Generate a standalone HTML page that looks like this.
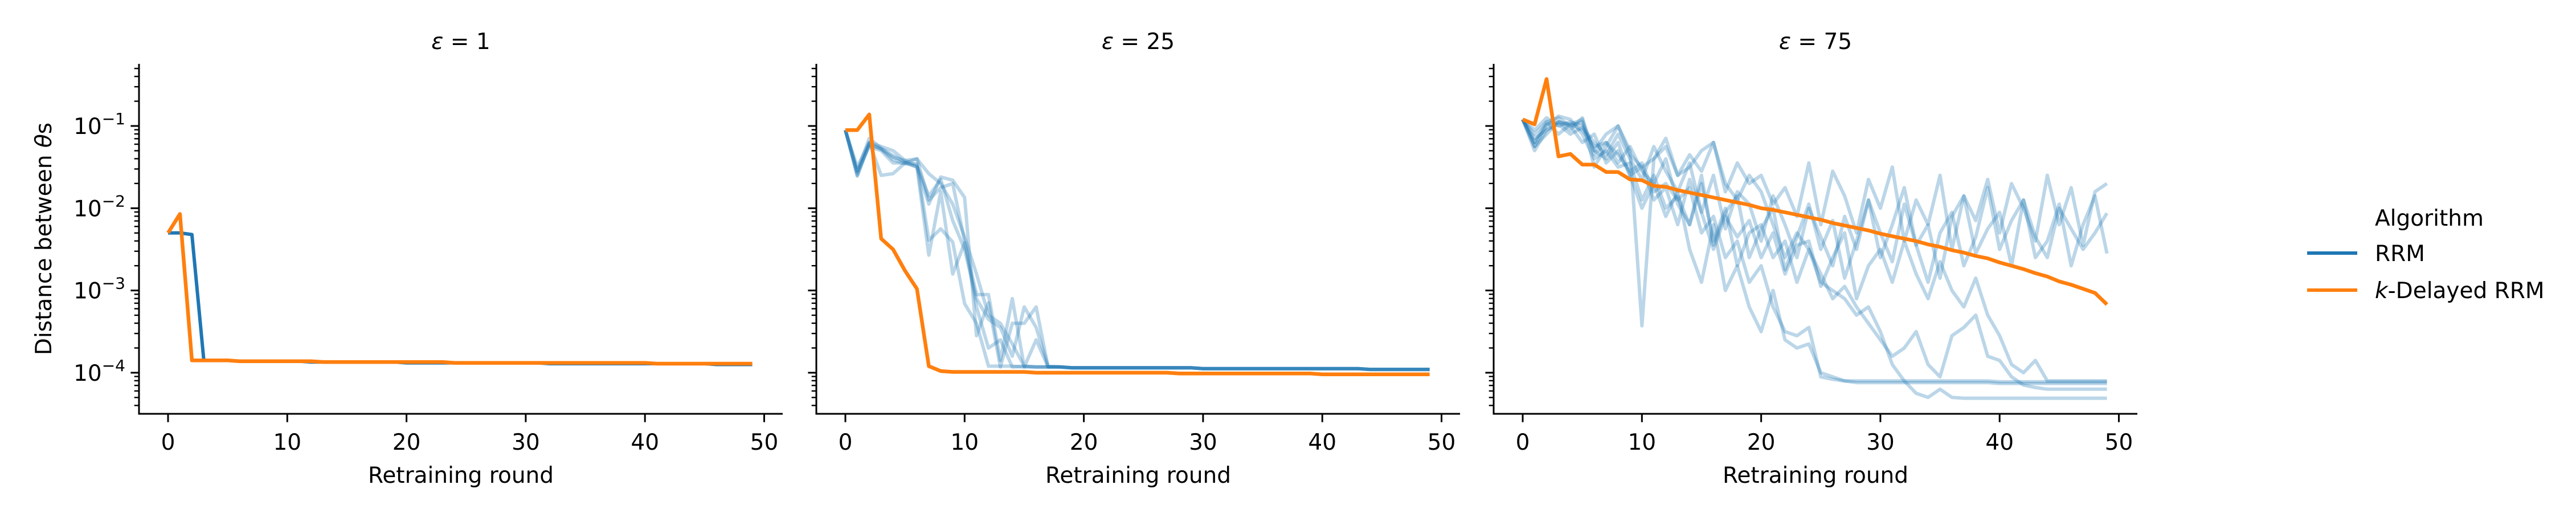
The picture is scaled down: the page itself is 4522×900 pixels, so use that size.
<!DOCTYPE html>
<html><head><meta charset="utf-8"><style>
html,body{margin:0;padding:0;background:#fff;}
svg{display:block;font-family:"DejaVu Sans","Liberation Sans",sans-serif;}
</style></head><body>
<svg id="chart" width="4522" height="900" viewBox="0 0 4522 900" xmlns="http://www.w3.org/2000/svg">
<text x="0" y="0" transform="translate(90,419) rotate(-90)" text-anchor="middle" font-size="39">Distance between <tspan font-style="italic">θ</tspan>s</text>
<g>
<text x="4169" y="396" font-size="39">Algorithm</text>
<line x1="4050" x2="4138" y1="444" y2="444" stroke="#1f77b4" stroke-width="6"/>
<text x="4169" y="458" font-size="39">RRM</text>
<line x1="4050" x2="4138" y1="509" y2="509" stroke="#ff7f0e" stroke-width="6"/>
<text x="4169" y="523" font-size="39"><tspan font-style="italic">k</tspan>-Delayed RRM</text>
</g>
</svg>
<script>
const xTicks=[0,10,20,30,40,50];
const yMajor=[-1,-2,-3,-4];
const yMajorLabels=["−1","−2","−3","−4"];
const panelTitles=["1","25","75"];
const p1Blue=[-2.30,-2.30,-2.32,-3.85,-3.85,-3.85,-3.86,-3.86,-3.86,-3.86,-3.86,-3.86,-3.87,-3.87,-3.87,-3.87,-3.87,-3.87,-3.87,-3.87,-3.88,-3.88,-3.88,-3.88,-3.88,-3.88,-3.88,-3.88,-3.88,-3.88,-3.88,-3.88,-3.89,-3.89,-3.89,-3.89,-3.89,-3.89,-3.89,-3.89,-3.89,-3.89,-3.89,-3.89,-3.89,-3.89,-3.90,-3.90,-3.90,-3.90];
const p1Orange=[-2.30,-2.07,-3.85,-3.85,-3.85,-3.85,-3.86,-3.86,-3.86,-3.86,-3.86,-3.86,-3.86,-3.87,-3.87,-3.87,-3.87,-3.87,-3.87,-3.87,-3.87,-3.87,-3.87,-3.87,-3.88,-3.88,-3.88,-3.88,-3.88,-3.88,-3.88,-3.88,-3.88,-3.88,-3.88,-3.88,-3.88,-3.88,-3.88,-3.88,-3.88,-3.89,-3.89,-3.89,-3.89,-3.89,-3.89,-3.89,-3.89,-3.89];
const p2Orange=[-1.05,-1.05,-0.86,-2.37,-2.50,-2.76,-2.98,-3.92,-3.98,-3.99,-3.99,-3.99,-3.99,-3.99,-3.99,-3.99,-4.00,-4.00,-4.00,-4.00,-4.00,-4.00,-4.00,-4.00,-4.00,-4.00,-4.00,-4.00,-4.01,-4.01,-4.01,-4.01,-4.01,-4.01,-4.01,-4.01,-4.01,-4.01,-4.01,-4.01,-4.02,-4.02,-4.02,-4.02,-4.02,-4.02,-4.02,-4.02,-4.02,-4.02];
const p2RunA=[-1.05,-1.61,-1.22,-1.28,-1.41,-1.46,-1.46,-2.39,-2.25,-2.41,-3.16,-3.40,-3.92,-3.92,-3.92,-3.93,-3.93,-3.93,-3.93,-3.94,-3.94,-3.94,-3.94,-3.94,-3.94,-3.94,-3.94,-3.94,-3.94,-3.94,-3.95,-3.95,-3.95,-3.95,-3.95,-3.95,-3.95,-3.95,-3.95,-3.95,-3.95,-3.95,-3.95,-3.95,-3.96,-3.96,-3.96,-3.96,-3.96,-3.96];
const p2RunB=[-1.05,-1.55,-1.25,-1.30,-1.45,-1.45,-1.40,-1.58,-1.70,-1.95,-2.35,-2.80,-3.30,-3.40,-3.65,-3.92,-3.93,-3.93,-3.93,-3.94,-3.94,-3.94,-3.94,-3.94,-3.94,-3.94,-3.94,-3.94,-3.94,-3.94,-3.95,-3.95,-3.95,-3.95,-3.95,-3.95,-3.95,-3.95,-3.95,-3.95,-3.95,-3.95,-3.95,-3.95,-3.96,-3.96,-3.96,-3.96,-3.96,-3.96];
const p2RunC=[-1.05,-1.50,-1.20,-1.60,-1.58,-1.45,-1.50,-1.95,-1.62,-1.66,-1.87,-3.55,-3.15,-3.93,-3.40,-3.40,-3.20,-3.93,-3.93,-3.94,-3.94,-3.94,-3.94,-3.94,-3.94,-3.94,-3.94,-3.94,-3.94,-3.94,-3.95,-3.95,-3.95,-3.95,-3.95,-3.95,-3.95,-3.95,-3.95,-3.95,-3.95,-3.95,-3.95,-3.95,-3.96,-3.96,-3.96,-3.96,-3.96,-3.96];
const p2RunD=[-1.05,-1.55,-1.15,-1.27,-1.36,-1.44,-1.50,-2.57,-1.80,-2.80,-2.42,-3.05,-3.05,-3.85,-3.10,-3.93,-3.60,-3.93,-3.93,-3.94,-3.94,-3.94,-3.94,-3.94,-3.94,-3.94,-3.94,-3.94,-3.94,-3.94,-3.95,-3.95,-3.95,-3.95,-3.95,-3.95,-3.95,-3.95,-3.95,-3.95,-3.95,-3.95,-3.95,-3.95,-3.96,-3.96,-3.96,-3.96,-3.96,-3.96];
const p2RunE=[-1.05,-1.58,-1.20,-1.25,-1.30,-1.42,-1.40,-1.90,-1.75,-1.70,-2.40,-3.20,-3.70,-3.60,-3.93,-3.92,-3.93,-3.93,-3.93,-3.94,-3.94,-3.94,-3.94,-3.94,-3.94,-3.94,-3.94,-3.94,-3.94,-3.94,-3.95,-3.95,-3.95,-3.95,-3.95,-3.95,-3.95,-3.95,-3.95,-3.95,-3.95,-3.95,-3.95,-3.95,-3.96,-3.96,-3.96,-3.96,-3.96,-3.96];
const p2RunF=[-1.05,-1.60,-1.22,-1.28,-1.38,-1.42,-1.48,-1.85,-1.65,-2.15,-2.50,-3.10,-3.35,-3.45,-3.80,-3.20,-3.45,-3.92,-3.93,-3.94,-3.94,-3.94,-3.94,-3.94,-3.94,-3.94,-3.94,-3.94,-3.94,-3.94,-3.95,-3.95,-3.95,-3.95,-3.95,-3.95,-3.95,-3.95,-3.95,-3.95,-3.95,-3.95,-3.95,-3.95,-3.96,-3.96,-3.96,-3.96,-3.96,-3.96];
const p3Orange=[-0.92,-0.98,-0.43,-1.37,-1.34,-1.47,-1.47,-1.56,-1.56,-1.65,-1.66,-1.73,-1.74,-1.78,-1.81,-1.84,-1.87,-1.90,-1.93,-1.96,-2.00,-2.02,-2.05,-2.08,-2.11,-2.14,-2.18,-2.21,-2.24,-2.27,-2.31,-2.34,-2.37,-2.40,-2.44,-2.47,-2.51,-2.54,-2.58,-2.61,-2.66,-2.70,-2.74,-2.79,-2.83,-2.89,-2.93,-2.98,-3.03,-3.17];
const p3Run1=[-0.92,-1.30,-1.05,-0.95,-0.98,-1.05,-1.25,-1.20,-1.35,-1.55,-1.45,-1.80,-1.70,-1.90,-1.75,-2.30,-2.10,-2.60,-2.40,-2.90,-2.70,-3.20,-3.50,-3.55,-3.45,-4.05,-4.08,-4.10,-4.10,-4.10,-4.10,-4.10,-4.10,-4.10,-4.10,-4.10,-4.10,-4.10,-4.10,-4.10,-4.11,-4.11,-4.11,-4.11,-4.11,-4.11,-4.11,-4.11,-4.11,-4.11];
const p3Run2=[-0.92,-1.10,-0.95,-0.90,-1.00,-0.95,-1.30,-1.40,-1.20,-1.60,-2.00,-1.70,-2.10,-1.80,-2.50,-2.90,-2.20,-3.00,-2.70,-3.20,-3.50,-3.00,-3.60,-3.70,-3.65,-4.00,-4.05,-4.10,-4.12,-4.12,-4.12,-4.12,-4.12,-4.12,-4.12,-4.12,-4.12,-4.12,-4.12,-4.12,-4.13,-4.13,-4.13,-4.13,-4.13,-4.13,-4.13,-4.13,-4.13,-4.13];
const p3Run3=[-0.92,-1.05,-0.90,-1.00,-0.95,-1.00,-1.30,-1.10,-1.00,-1.35,-1.50,-1.40,-1.25,-1.60,-1.50,-1.30,-1.20,-1.70,-1.90,-1.60,-1.80,-2.20,-2.60,-2.30,-2.50,-2.90,-3.00,-3.10,-3.30,-3.20,-3.50,-3.90,-4.10,-4.25,-4.30,-4.20,-4.30,-4.31,-4.31,-4.31,-4.31,-4.31,-4.31,-4.31,-4.31,-4.31,-4.31,-4.31,-4.31,-4.31];
const p3Run4=[-0.92,-1.20,-1.00,-0.88,-0.92,-1.10,-1.40,-1.30,-1.50,-1.45,-1.90,-1.60,-2.00,-1.85,-2.20,-1.70,-2.40,-2.00,-2.70,-2.30,-2.20,-2.60,-2.40,-2.90,-2.50,-2.80,-3.10,-2.95,-3.20,-3.40,-3.60,-3.80,-3.70,-3.50,-3.90,-4.05,-3.55,-3.45,-3.30,-3.80,-3.85,-4.05,-4.15,-4.18,-4.20,-4.20,-4.20,-4.20,-4.20,-4.20];
const p3Run5=[-0.92,-1.25,-0.98,-0.95,-1.00,-1.20,-1.10,-1.45,-1.30,-1.60,-1.50,-1.90,-1.75,-2.20,-1.65,-2.05,-2.50,-2.10,-2.35,-2.15,-2.60,-2.30,-2.80,-2.45,-2.40,-2.95,-2.60,-2.30,-3.10,-2.70,-2.50,-2.90,-2.40,-2.80,-3.10,-2.65,-3.00,-3.20,-2.85,-3.30,-3.55,-3.90,-4.00,-3.85,-4.10,-4.10,-4.10,-4.10,-4.10,-4.10];
const p3Run6=[-0.92,-1.20,-0.95,-1.10,-0.98,-0.92,-1.50,-1.25,-1.00,-1.30,-3.43,-1.40,-1.15,-1.60,-1.35,-1.55,-1.20,-1.80,-1.45,-1.70,-1.60,-1.95,-1.75,-2.10,-1.45,-2.20,-1.55,-1.85,-2.30,-1.65,-2.00,-1.50,-2.40,-1.90,-2.20,-1.60,-2.50,-1.85,-2.15,-1.65,-2.30,-1.70,-2.00,-2.40,-1.60,-2.20,-1.75,-2.45,-1.80,-1.70];
const p3Run7=[-0.92,-1.15,-1.05,-0.98,-1.10,-1.02,-1.20,-1.35,-1.10,-1.40,-1.65,-1.25,-1.55,-1.80,-1.45,-2.05,-1.60,-2.25,-1.80,-1.95,-2.40,-1.85,-2.20,-2.60,-2.00,-2.35,-2.70,-2.10,-2.50,-1.90,-2.30,-2.65,-1.95,-2.45,-2.20,-2.85,-2.10,-1.85,-2.55,-2.25,-2.05,-2.70,-1.90,-2.35,-2.60,-2.00,-2.25,-2.50,-2.30,-2.06];
const p3Run8=[-0.92,-1.25,-1.10,-0.95,-1.05,-0.90,-1.35,-1.20,-1.45,-1.25,-1.55,-1.70,-1.40,-1.95,-2.20,-1.60,-2.45,-2.05,-1.85,-2.60,-2.25,-2.00,-2.75,-2.35,-1.95,-2.50,-2.15,-2.85,-2.40,-1.90,-2.60,-2.20,-1.75,-2.45,-2.90,-2.30,-2.05,-2.70,-2.35,-1.75,-2.50,-2.15,-1.90,-2.60,-2.40,-1.95,-2.70,-2.20,-1.85,-2.55];

const NS="http://www.w3.org/2000/svg";
const svg=document.getElementById('chart');
const panelLefts=[244,1433,2622];
const AXW=1130, TOP=112, BOT=726;
const YMAX=-0.245, YMIN=-4.5;
function xs(p,i){return panelLefts[p]+51+i*20.93;}
function ys(v){return 221+(-1-v)*144.3;}
function mk(tag,attrs,parent){const e=document.createElementNS(NS,tag);for(const k in attrs)e.setAttribute(k,attrs[k]);(parent||svg).appendChild(e);return e;}
function drawLine(p,arr,color,op,w,name,g){
  const pts=arr.map((v,i)=>xs(p,i).toFixed(1)+','+ys(v).toFixed(1)).join(' ');
  const el=mk('polyline',{points:pts,fill:'none',stroke:color,'stroke-opacity':op,'stroke-width':w,'stroke-linejoin':'round'},g);
  
  
}
const series=[
  {blue:[p1Blue],blueOp:1,orange:p1Orange},
  {blue:[p2RunA,p2RunB,p2RunC,p2RunD,p2RunE,p2RunF],blueOp:0.3,orange:p2Orange},
  {blue:[p3Run1,p3Run2,p3Run3,p3Run4,p3Run5,p3Run6,p3Run7,p3Run8],blueOp:0.3,orange:p3Orange}
];
for(let p=0;p<3;p++){
  const L=panelLefts[p];
  const g=mk('g',{});
  
  
  const t=mk('text',{x:L+565,y:86,'text-anchor':'middle','font-size':39},g);
  
  
  const ts=mk('tspan',{'font-style':'italic'},t); ts.textContent='ε';
  t.appendChild(document.createTextNode(' = '+panelTitles[p]));
  // series
  series[p].blue.forEach((r,k)=>drawLine(p,r,'#1f77b4',series[p].blueOp,6,'rrm-run-'+(k+1),g));
  drawLine(p,series[p].orange,'#ff7f0e',1,6.5,'delayed-rrm-line',g);
  // spines
  const sl=mk('line',{x1:L,x2:L,y1:TOP,y2:BOT+1.5,stroke:'#000','stroke-width':3},g);
  
  
  const sb=mk('line',{x1:L-1.5,x2:L+AXW,y1:BOT,y2:BOT,stroke:'#000','stroke-width':3},g);
  
  
  xTicks.forEach(v=>{
    const x=xs(p,v);
    const tk=mk('line',{x1:x,x2:x,y1:BOT,y2:BOT+14.6,stroke:'#000','stroke-width':3},g);
    
    
    const tl=mk('text',{x:x,y:789,'text-anchor':'middle','font-size':39},g);
    
    
    tl.textContent=v;
  });
  const xl=mk('text',{x:L+565,y:847,'text-anchor':'middle','font-size':39},g);
  
  
  xl.textContent='Retraining round';
  for(let d=-5;d<=-1;d++){for(let m=2;m<=9;m++){
    const v=d+Math.log10(m); if(v>YMAX||v<YMIN)continue;
    const mt=mk('line',{x1:L-8.3,x2:L,y1:ys(v),y2:ys(v),stroke:'#000','stroke-width':2.4},g);
    
    
  }}
  yMajor.forEach((v,i)=>{
    const y=ys(v);
    const mt=mk('line',{x1:L-14.6,x2:L,y1:y,y2:y,stroke:'#000','stroke-width':3},g);
    
    
    if(p===0){
      const tl=mk('text',{x:L-24,y:y+14,'text-anchor':'end','font-size':39},g);
      
      
      tl.appendChild(document.createTextNode('10'));
      const sup=mk('tspan',{dy:-17,'font-size':28},tl); sup.textContent=yMajorLabels[i];
    }
  });
}
</script>
</body></html>
